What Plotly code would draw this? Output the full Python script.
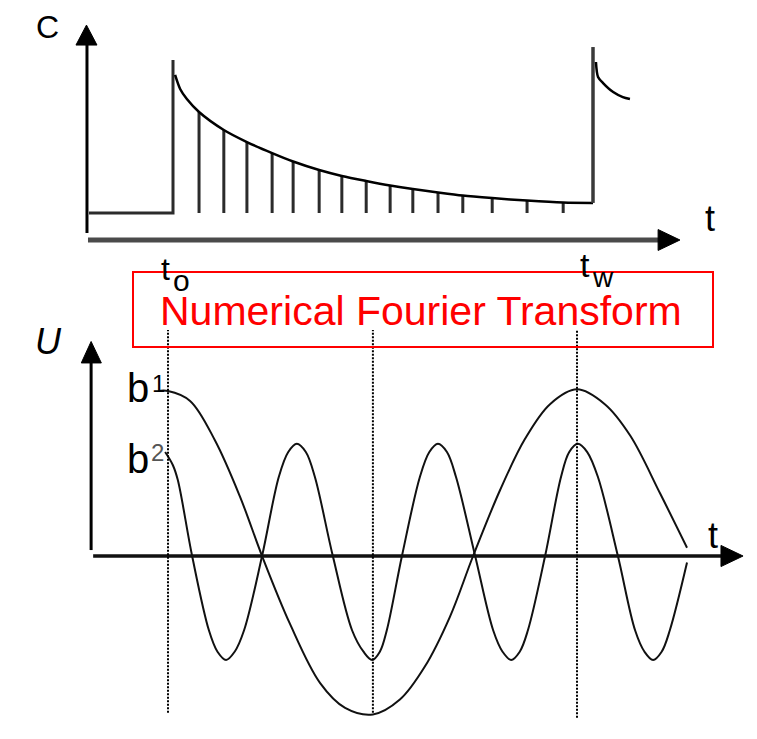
import plotly.graph_objects as go

W, H = 757, 739          # target picture size
OFF = 8                  # default page margin of the html body
FW, FH = W - OFF, H - OFF
FONT = "Liberation Sans, Arial, sans-serif"

# ---------------- data ----------------
t0 = 2.0          # injection time
tw = 12.0         # window end

# top panel: response C(t)
pre_t = [0.0, 2.0, 2.0]
pre_c = [1.5, 1.5, 10.0]
head_t = [2.05, 2.17, 2.33]
head_c = [9.17, 8.39, 7.83]
sample_t = [2.62, 3.21, 3.76, 4.36, 4.86, 5.48, 6.02, 6.60, 7.17, 7.71, 8.31, 8.90, 9.60, 10.43, 11.29]
sample_c = [7.11, 6.11, 5.44, 4.83, 4.36, 3.89, 3.56, 3.28, 3.03, 2.83, 2.64, 2.47, 2.33, 2.19, 2.08]
flat_end_c = 2.06
end_t = [12.0, 12.0]
end_c = [2.06, 10.72]
next_t = [12.07, 12.12, 12.24, 12.48, 12.71, 12.88]
next_c = [9.89, 9.06, 8.72, 8.22, 7.94, 7.83]
baseline_c = 1.5

# bottom panel: basis functions b1, b2
b1_t = [1.76, 2.00, 2.54, 3.15, 3.76, 4.30, 4.98, 5.72, 6.33, 7.01, 7.67, 8.28, 8.89, 9.46,
        10.12, 10.73, 11.34, 12.00, 12.68, 13.30, 14.03, 14.69]
b1_u = [1.00, 1.00, 0.94, 0.70, 0.36, 0.00, -0.41, -0.77, -0.92, -0.96, -0.87, -0.67, -0.37, 0.00,
        0.40, 0.71, 0.92, 1.01, 0.92, 0.73, 0.38, 0.05]
b2_t = [1.93, 2.12, 2.24, 2.59, 3.00, 3.21, 3.42, 3.63, 3.86, 4.30, 4.71, 4.94, 5.15, 5.37, 5.59,
        6.03, 6.50, 6.78, 6.99, 7.18, 7.35, 7.72, 8.16, 8.39, 8.60, 8.82, 9.04, 9.51, 9.95,
        10.18, 10.39, 10.60, 10.80, 11.22, 11.61, 11.81, 12.02, 12.25, 12.51, 13.00, 13.42,
        13.65, 13.86, 14.07, 14.27, 14.69]
b2_u = [0.63, 0.55, 0.46, 0.00, -0.45, -0.58, -0.63, -0.58, -0.45, 0.00, 0.48, 0.63, 0.68, 0.63, 0.48,
        0.00, -0.45, -0.58, -0.63, -0.58, -0.45, 0.00, 0.48, 0.63, 0.68, 0.63, 0.48, 0.00, -0.45,
        -0.58, -0.63, -0.58, -0.45, 0.00, 0.48, 0.63, 0.68, 0.63, 0.48, 0.00, -0.45,
        -0.58, -0.63, -0.58, -0.45, -0.04]
marker_t = [t0, 7.01, tw]

# ---------------- geometry of the two panels (pixel mapping) ----------------
# top:    px = 173 + 42.0*(t - 2),  py = 240 - 18*C
# bottom: px = 168 + 40.9*(t - 2),  py = 556 - 165*U
def xr(px0, k, tref):
    return [tref + (OFF - px0) / k, tref + (W - px0) / k]


def yr(py0, k):
    return [(py0 - H) / k, (py0 - OFF) / k]


fig = go.Figure()

# top panel traces
fig.add_trace(go.Scatter(x=pre_t, y=pre_c, mode="lines", xaxis="x", yaxis="y",
                         line=dict(color="#2b2b2b", width=3), hoverinfo="skip"))
stem_x, stem_y = [], []
for t, c in zip(sample_t, sample_c):
    stem_x += [t, t, None]
    stem_y += [baseline_c, c, None]
fig.add_trace(go.Scatter(x=stem_x, y=stem_y, mode="lines", xaxis="x", yaxis="y",
                         line=dict(color="#2b2b2b", width=3), hoverinfo="skip"))
fig.add_trace(go.Scatter(x=head_t + sample_t + [tw], y=head_c + sample_c + [flat_end_c],
                         mode="lines", xaxis="x", yaxis="y",
                         line=dict(color="#000000", width=2.5, shape="spline", smoothing=0.8),
                         hoverinfo="skip"))
fig.add_trace(go.Scatter(x=end_t, y=end_c, mode="lines", xaxis="x", yaxis="y",
                         line=dict(color="#3a3a3a", width=3.5), hoverinfo="skip"))
fig.add_trace(go.Scatter(x=next_t, y=next_c, mode="lines", xaxis="x", yaxis="y",
                         line=dict(color="#000000", width=2.5, shape="spline", smoothing=0.8),
                         hoverinfo="skip"))

# bottom panel traces
fig.add_trace(go.Scatter(x=b1_t, y=b1_u, mode="lines", xaxis="x2", yaxis="y2",
                         line=dict(color="#111111", width=2, shape="spline", smoothing=1.0),
                         hoverinfo="skip"))
fig.add_trace(go.Scatter(x=b2_t, y=b2_u, mode="lines", xaxis="x2", yaxis="y2",
                         line=dict(color="#111111", width=2, shape="spline", smoothing=1.0),
                         hoverinfo="skip"))

shapes = []
# top axes
shapes.append(dict(type="line", xref="x", yref="y", x0=-0.048, x1=-0.048, y0=0.39, y1=10.9,
                   line=dict(color="#000", width=3)))
shapes.append(dict(type="path", xref="x", yref="y",
                   path="M -0.31,10.83 L 0.19,10.83 L -0.06,11.94 Z",
                   fillcolor="#000", line=dict(color="#000", width=1)))
shapes.append(dict(type="line", xref="x", yref="y", x0=-0.024, x1=13.65, y0=0, y1=0,
                   line=dict(color="#4a4a4a", width=5)))
shapes.append(dict(type="path", xref="x", yref="y",
                   path="M 13.55,0.58 L 14.07,0 L 13.55,-0.58 Z",
                   fillcolor="#000", line=dict(color="#000", width=1)))
# bottom axes
shapes.append(dict(type="line", xref="x2", yref="y2", x0=0.12, x1=0.12, y0=0.036, y1=1.18,
                   line=dict(color="#000", width=3)))
shapes.append(dict(type="path", xref="x2", yref="y2",
                   path="M -0.12,1.17 L 0.37,1.17 L 0.12,1.30 Z",
                   fillcolor="#000", line=dict(color="#000", width=1)))
shapes.append(dict(type="line", xref="x2", yref="y2", x0=0.17, x1=15.6, y0=0, y1=0,
                   line=dict(color="#111", width=3.5)))
shapes.append(dict(type="path", xref="x2", yref="y2",
                   path="M 15.52,0.064 L 16.06,0 L 15.52,-0.064 Z",
                   fillcolor="#000", line=dict(color="#000", width=1)))
# dotted markers
for t, ybot in zip(marker_t, [-0.95, -0.95, -0.98]):
    shapes.append(dict(type="line", xref="x2", yref="y2", x0=t, x1=t, y0=ybot, y1=1.37,
                       line=dict(color="#000", width=2, dash="2px,1.5px")))
# red box
shapes.append(dict(type="rect", xref="paper", yref="paper",
                   x0=(133 - OFF) / FW, x1=(713 - OFF) / FW,
                   y0=1 - (347 - OFF) / FH, y1=1 - (272 - OFF) / FH,
                   line=dict(color="#ff0000", width=2), fillcolor="rgba(0,0,0,0)"))


def lab(text, px, py, size, color="#000", italic=False):
    return dict(text=text, x=(px - OFF) / FW, y=1 - (py - OFF) / FH, xref="paper", yref="paper",
                showarrow=False, xanchor="center", yanchor="middle",
                font=dict(family=FONT, size=size, color=color,
                          style="italic" if italic else "normal"))


annotations = [
    lab("C", 47, 27, 32),
    lab("t", 710, 218, 36),
    lab("t", 165, 269, 32),
    lab("o", 181.5, 280, 30),
    lab("t", 585, 265.5, 34),
    lab("w", 602.5, 277.5, 28),
    lab("Numerical Fourier Transform", 421, 311, 41, color="#ff0000"),
    lab("U", 48, 341, 36, italic=True),
    lab("b", 137.5, 388, 40),
    lab("1", 158, 383.5, 24),
    lab("b", 137.5, 459, 40),
    lab("2", 157.5, 452.5, 24, color="#555"),
    lab("t", 713, 535, 36),
]

fig.update_layout(
    width=FW, height=FH,
    margin=dict(l=0, r=0, t=0, b=0),
    paper_bgcolor="white", plot_bgcolor="white",
    showlegend=False,
    xaxis=dict(domain=[0, 1], range=xr(173, 42.0, 2.0), visible=False, fixedrange=True),
    yaxis=dict(domain=[0, 1], range=yr(240, 18.0), visible=False, fixedrange=True),
    xaxis2=dict(domain=[0, 1], range=xr(168, 40.9, 2.0), visible=False, overlaying="x",
                anchor="y2", fixedrange=True),
    yaxis2=dict(domain=[0, 1], range=yr(556, 165.0), visible=False, overlaying="y",
                anchor="x2", fixedrange=True),
    shapes=shapes,
    annotations=annotations,
)

fig.write_html("out.html")
